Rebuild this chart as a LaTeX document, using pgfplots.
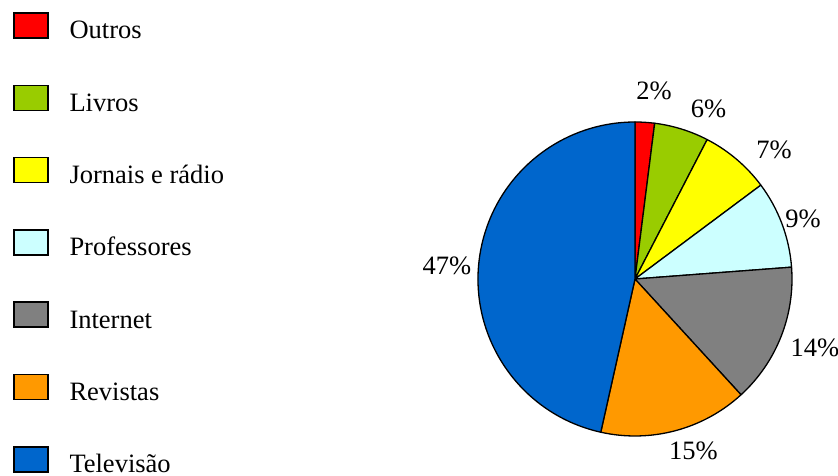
\documentclass[border=0pt]{standalone}
\usepackage{pgfplots}
\pgfplotsset{compat=1.18}
\usepackage{pgfplotstable}
\usepackage{fontspec}
\setmainfont{Liberation Serif}
\definecolor{cOutros}{HTML}{FF0000}
\definecolor{cLivros}{HTML}{99CC00}
\definecolor{cJornais}{HTML}{FFFF00}
\definecolor{cProf}{HTML}{CCFFFF}
\definecolor{cInternet}{HTML}{808080}
\definecolor{cRevistas}{HTML}{FF9900}
\definecolor{cTV}{HTML}{0066CC}
\newcommand\bigfont{\fontsize{26.5pt}{30pt}\selectfont}
% value = share of the pie, label = printed percentage, lx/ly = label position (px, y down)
\pgfplotstableread[col sep=comma]{
name,value,label,col,lx,ly
Outros,2.0,2,cOutros,654,100
Livros,5.6,6,cLivros,708.5,118
Jornais e rádio,7.2,7,cJornais,774,159
Professores,9.0,9,cProf,803,228
Internet,14.4,14,cInternet,815,357
Revistas,15.3,15,cRevistas,693.5,460
Televisão,46.5,47,cTV,447,275
}\piedata
\begin{document}
\begin{tikzpicture}
\begin{axis}[
  at={(0,0)}, anchor=south west,
  scale only axis, width=838pt, height=476pt,
  xmin=0, xmax=838, ymin=0, ymax=476,
  hide axis, clip=false,
  legend style={at={(axis cs:13,464)}, anchor=north west, draw=none, fill=none,
    inner sep=0pt, outer sep=0pt, font=\bigfont, row sep=45.3pt, column sep=21pt,
    cells={anchor=base west},
    nodes={inner sep=0pt, text height=27pt, text depth=0pt}},
  legend image code/.code={\draw[line width=1.5pt,#1] (0pt,1pt) rectangle (34pt,26pt);},
]
\pgfplotstablegetrowsof{\piedata}
\pgfmathtruncatemacro\nrows{\pgfplotsretval-1}
\def\startang{90}
\pgfplotsforeachungrouped \i in {0,...,\nrows}{%
  \pgfplotstablegetelem{\i}{value}\of\piedata \let\val\pgfplotsretval
  \pgfplotstablegetelem{\i}{label}\of\piedata \let\lab\pgfplotsretval
  \pgfplotstablegetelem{\i}{col}\of\piedata \let\col\pgfplotsretval
  \pgfplotstablegetelem{\i}{name}\of\piedata \let\nm\pgfplotsretval
  \pgfplotstablegetelem{\i}{lx}\of\piedata \let\lx\pgfplotsretval
  \pgfplotstablegetelem{\i}{ly}\of\piedata \pgfmathsetmacro\ly{476-\pgfplotsretval}%
  \pgfmathsetmacro\endang{\startang-3.6*\val}%
  \edef\cmd{%
    \noexpand\addlegendimage{fill=\col, draw=black}%
    \noexpand\addlegendentry{\nm}%
    \noexpand\filldraw[fill=\col, draw=black, line width=1.3pt, line join=round]
      (axis cs:635,197) -- ++(\startang:157pt)
      arc[start angle=\startang, end angle=\endang, radius=157pt] -- cycle;%
    \noexpand\node[anchor=base, font=\noexpand\bigfont, inner sep=0pt]
      at (axis cs:\lx,\ly) {\lab\noexpand\%};%
  }%
  \cmd
  \global\let\startang\endang
}
\end{axis}
\pgfresetboundingbox
\path[use as bounding box] (0,0) rectangle (838pt,476pt);
\end{tikzpicture}
\end{document}
